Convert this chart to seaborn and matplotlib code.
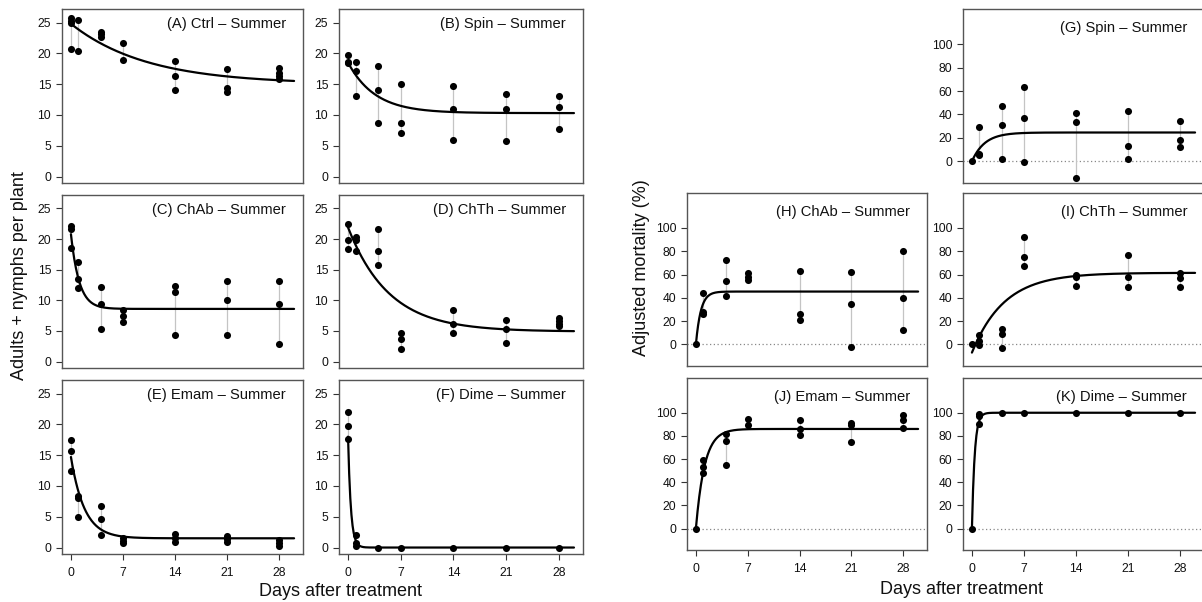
import numpy as np
import pandas as pd
import matplotlib
matplotlib.use("Agg")
import matplotlib.pyplot as plt
import seaborn as sns

# Sampling days (days after treatment)
days = [0, 1, 4, 7, 14, 21, 28]

# Insect counts per plant (adults + nymphs), replicates per sampling day
ctrl_counts = [[25.8, 25.3, 24.9, 20.7], [25.4, 20.4], [23.4, 23.1, 22.7], [21.7, 19.0],
               [18.8, 16.3, 14.1], [17.4, 14.3, 13.7], [17.7, 16.8, 16.3, 15.9]]
spin_counts = [[19.7, 18.6, 18.4], [18.6, 17.1, 13.0], [18.0, 14.1, 8.7], [15.0, 8.7, 7.0],
               [14.7, 11.0, 6.0], [13.4, 11.0, 5.7], [13.0, 11.3, 7.7]]
chab_counts = [[22.2, 21.7, 18.5], [16.2, 13.5, 12.0], [12.1, 9.4, 5.4], [8.5, 7.4, 6.4],
               [12.4, 11.4, 4.4], [13.1, 10.1, 4.4], [13.1, 9.4, 2.8]]
chth_counts = [[22.4, 19.8, 18.4], [20.4, 19.8, 18.1], [21.7, 18.1, 15.7], [4.7, 3.7, 2.0],
               [8.4, 6.1, 4.7], [6.8, 5.4, 3.1], [7.1, 6.6, 6.2, 5.8]]
emam_counts = [[17.4, 15.7, 12.4], [8.4, 8.1, 5.0], [6.7, 4.7, 2.0], [1.5, 1.1, 0.8],
               [2.2, 1.5, 0.9], [1.8, 1.4, 0.9], [1.2, 0.7, 0.3]]
dime_counts = [[22.0, 19.8, 17.7], [2.0, 0.8, 0.3], [0.0], [0.0], [0.0], [0.0], [0.0]]

# Adjusted mortality (%), replicates per sampling day
spin_mort = [[0.0], [29.1, 6.6, 5.1], [47.1, 31.1, 1.7], [63.1, 37.1, -0.6],
             [40.9, 33.4, -14.3], [42.9, 13.4, 2.0], [34.0, 18.6, 12.0]]
chab_mort = [[0.0], [44.0, 27.7, 26.0], [72.3, 54.6, 41.4], [61.1, 58.3, 55.7],
             [63.4, 26.3, 21.1], [62.3, 34.6, -2.0], [80.3, 40.0, 12.6]]
chth_mort = [[0.0], [7.8, 2.9, -0.9], [12.9, 8.9, -3.2], [92.0, 75.3, 67.0],
             [59.5, 57.5, 50.3], [76.7, 57.5, 49.4], [61.5, 57.2, 48.9]]
emam_mort = [[0.0], [59.0, 53.3, 47.9], [82.0, 75.6, 54.7], [94.8, 89.1],
             [93.7, 86.2, 80.5], [90.8, 89.1, 74.8], [97.7, 93.7, 87.1]]
dime_mort = [[0.0], [98.9, 97.1, 90.0], [100.0], [100.0], [100.0], [100.0], [100.0]]

# Fitted exponential models: y = plateau + (start - plateau) * exp(-rate * t)
fit_start = {"A": 24.8, "B": 18.5, "C": 20.8, "D": 21.9, "E": 14.7, "F": 18.0,
             "G": 0.0, "H": 0.0, "I": -7.0, "J": 0.0, "K": 0.0}
fit_plateau = {"A": 15.0, "B": 10.3, "C": 8.6, "D": 4.9, "E": 1.5, "F": 0.0,
               "G": 24.6, "H": 45.4, "I": 61.5, "J": 86.0, "K": 100.0}
fit_rate = {"A": 0.098, "B": 0.278, "C": 0.9, "D": 0.184, "E": 0.55, "F": 2.7,
            "G": 0.58, "H": 1.5, "I": 0.23, "J": 0.85, "K": 2.7}

titles = {"A": "(A) Ctrl \u2013 Summer", "B": "(B) Spin \u2013 Summer",
          "C": "(C) ChAb \u2013 Summer", "D": "(D) ChTh \u2013 Summer",
          "E": "(E) Emam \u2013 Summer", "F": "(F) Dime \u2013 Summer",
          "G": "(G) Spin \u2013 Summer", "H": "(H) ChAb \u2013 Summer",
          "I": "(I) ChTh \u2013 Summer", "J": "(J) Emam \u2013 Summer",
          "K": "(K) Dime \u2013 Summer"}

count_ticks = [0, 5, 10, 15, 20, 25]
mort_ticks = [0, 20, 40, 60, 80, 100]
day_ticks = [0, 7, 14, 21, 28]

sns.set_theme(style="ticks")
plt.rcParams["font.family"] = ["Liberation Sans", "DejaVu Sans"]

W, H = 1202, 602
fig = plt.figure(figsize=(W / 100, H / 100), dpi=100)


def make_ax(x0, x1, y0, y1):
    return fig.add_axes([x0 / W, 1 - y1 / H, (x1 - x0) / W, (y1 - y0) / H])


def to_frame(values):
    rows = [(d, v) for d, reps in zip(days, values) for v in reps]
    return pd.DataFrame(rows, columns=["day", "value"])


def draw_panel(ax, key, values, mortality, show_x):
    df = to_frame(values)
    grp = df.groupby("day")["value"]
    lo, hi = grp.min(), grp.max()
    ax.vlines(lo.index, lo.values, hi.values, color="#c4c4c4", lw=0.9, zorder=1)
    if mortality:
        ax.axhline(0, color="#888888", lw=0.9, ls=(0, (1, 2)), zorder=0)
    t = np.linspace(0, 30, 400)
    y = fit_plateau[key] + (fit_start[key] - fit_plateau[key]) * np.exp(-fit_rate[key] * t)
    sns.lineplot(x=t, y=y, ax=ax, color="black", lw=1.6, zorder=2)
    sns.scatterplot(data=df, x="day", y="value", ax=ax, color="black", s=26,
                    edgecolor="black", linewidth=0, zorder=3)
    ax.set_xlim(-1.2, 31.2)
    if mortality:
        ax.set_ylim(-18.5, 130)
        ax.set_yticks(mort_ticks)
    else:
        ax.set_ylim(-1.05, 27.2)
        ax.set_yticks(count_ticks)
    ax.set_xticks(day_ticks)
    if not show_x:
        ax.tick_params(axis="x", bottom=False, labelbottom=False)
    ax.tick_params(axis="both", labelsize=8.7, length=4.3, width=0.8, color="#333333",
                   labelcolor="#111111")
    ax.tick_params(axis="y", pad=3.5)
    ax.tick_params(axis="x", pad=5)
    ax.set_xlabel("")
    ax.set_ylabel("")
    for sp in ax.spines.values():
        sp.set_visible(True)
        sp.set_color("#555555")
        sp.set_linewidth(1.0)
    ax.text(0.93, 0.915 if not mortality else 0.89, titles[key], transform=ax.transAxes,
            ha="right", va="center", fontsize=10.6, color="#111111")


# Left block: insect counts
left_cols = [(62, 303), (339, 583)]
left_rows = [(9, 183), (195, 368), (380, 554)]
count_panels = [("A", ctrl_counts), ("B", spin_counts), ("C", chab_counts),
                ("D", chth_counts), ("E", emam_counts), ("F", dime_counts)]
for i, (key, vals) in enumerate(count_panels):
    r, c = divmod(i, 2)
    ax = make_ax(*left_cols[c], *left_rows[r])
    draw_panel(ax, key, vals, False, r == 2)

# Right block: adjusted mortality
right_cols = [(687, 927), (963, 1204)]
right_rows = [(9, 183), (193, 366), (378, 550)]
mort_panels = [((0, 1), "G", spin_mort), ((1, 0), "H", chab_mort), ((1, 1), "I", chth_mort),
               ((2, 0), "J", emam_mort), ((2, 1), "K", dime_mort)]
for (r, c), key, vals in mort_panels:
    ax = make_ax(*right_cols[c], *right_rows[r])
    draw_panel(ax, key, vals, True, r == 2)

fig.text(20 / W, 1 - 276 / H, "Adults + nymphs per plant", rotation=90,
         ha="center", va="center", fontsize=13, color="#111111")
fig.text(641 / W, 1 - 268 / H, "Adjusted mortality (%)", rotation=90,
         ha="center", va="center", fontsize=13, color="#111111")
fig.text(340 / W, 1 - 591 / H, "Days after treatment", ha="center", va="center",
         fontsize=13, color="#111111")
fig.text(962 / W, 1 - 589 / H, "Days after treatment", ha="center", va="center",
         fontsize=13, color="#111111")

fig.savefig("out.png", dpi=100, facecolor="white")
